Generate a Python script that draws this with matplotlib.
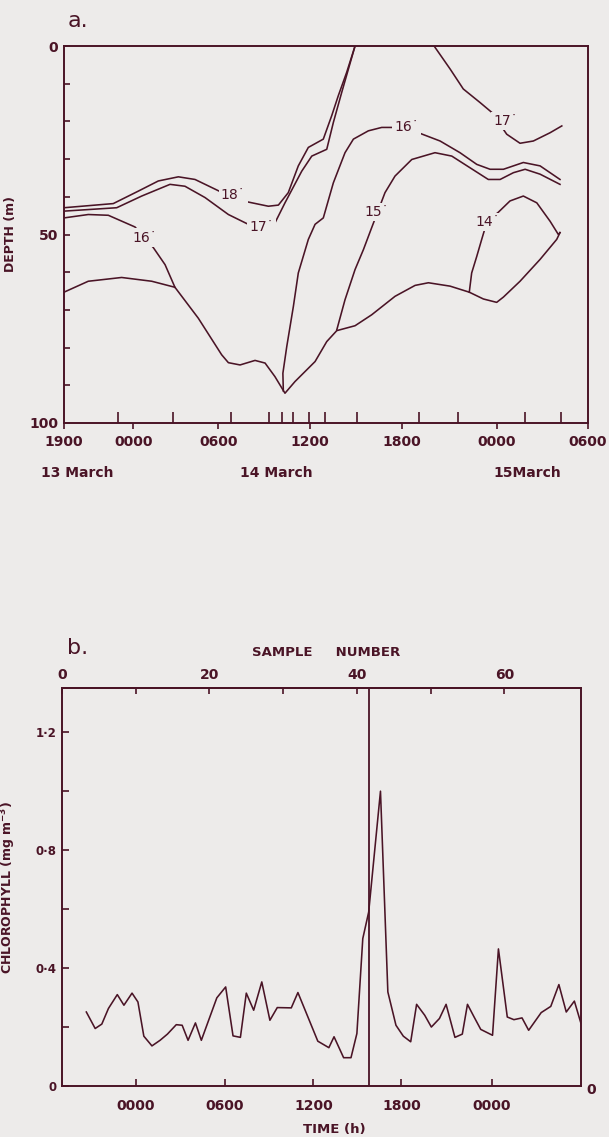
import matplotlib
matplotlib.use("Agg")
import matplotlib.pyplot as plt
from matplotlib.ticker import MultipleLocator, FixedLocator

ink = "#4a1426"
bg = "#edebea"
plt.rcParams['font.family'] = ['DejaVu Sans']

# ---- panel a: isotherm depth (m) against hours after 1900, 13 March ----
iso18_t = [0, 3.29, 4.96, 6.30, 7.64, 8.75, 10.42, 12.20, 13.65, 14.32, 14.98, 15.65,
           16.32, 17.32, 17.88, 18.32, 18.88, 19.44]
iso18_d = [42.9, 41.8, 38.5, 35.8, 34.7, 35.4, 38.6, 41.3, 42.5, 42.2, 38.9, 31.8,
           26.9, 24.7, 18.5, 13.2, 7.0, 0]

iso17a_t = [0, 3.52, 5.19, 7.08, 8.08, 9.42, 10.98, 12.31, 13.98, 14.76, 15.88, 16.55,
            17.55, 17.99, 18.55, 19.44]
iso17a_d = [43.8, 42.9, 39.8, 36.7, 37.2, 40.2, 44.7, 47.3, 47.8, 41.6, 33.2, 29.2,
            27.4, 20.3, 12.3, 0]

iso17b_t = [24.72, 25.79, 26.67, 27.79, 28.57, 29.57, 30.46, 31.35, 32.47, 33.25]
iso17b_d = [0, 6.1, 11.4, 15.0, 17.6, 23.4, 25.8, 25.2, 23.0, 21.2]

iso16a_t = [0, 1.62, 2.96, 4.74, 5.97, 6.75, 7.41]
iso16a_d = [45.6, 44.7, 44.9, 48.0, 53.5, 58.0, 64.0]

iso16b_t = [14.65, 14.62, 14.88, 15.32, 15.65, 16.32, 16.77, 17.32, 17.99, 18.77, 19.33,
            20.33, 21.22, 21.89, 23.67, 25.12, 26.45, 27.57, 28.46, 29.35, 30.68, 31.80, 33.13]
iso16b_d = [91.5, 86.8, 79.7, 69.1, 60.2, 51.3, 47.3, 45.6, 36.3, 28.3, 24.7,
            22.5, 21.6, 21.6, 23.0, 25.2, 28.3, 31.4, 32.7, 32.7, 30.9, 31.8, 35.4]

iso15_t = [18.22, 18.77, 19.44, 20.0, 20.55, 21.44, 22.11, 23.23, 24.78, 25.90, 27.12,
           28.34, 29.13, 30.02, 30.80, 31.80, 33.13]
iso15_d = [75.3, 67.3, 59.3, 54.0, 48.2, 38.9, 34.5, 30.1, 28.3, 29.2, 32.3,
           35.4, 35.4, 33.6, 32.7, 34.0, 36.7]

iso14_t = [27.07, 27.23, 27.57, 27.90, 28.26, 29.01, 29.79, 30.68, 31.58, 32.47, 33.02, 33.13]
iso14_d = [65.3, 60.2, 55.8, 51.3, 46.5, 44.1, 41.1, 39.8, 41.6, 46.5, 50.0, 49.5]

base_t = [0, 1.62, 3.85, 5.86, 7.41, 8.97, 10.53, 10.98, 11.76, 12.76, 13.43, 14.09,
          14.76, 15.43, 16.77, 17.55, 18.22, 19.44, 20.55, 22.11, 23.45, 24.34, 25.79,
          27.07, 28.01, 28.90, 29.35, 30.46, 31.80, 32.91, 33.13]
base_d = [65.3, 62.4, 61.4, 62.4, 64.0, 72.2, 81.9, 84.0, 84.6, 83.4, 84.1, 87.7,
          92.1, 89.0, 83.7, 78.4, 75.5, 74.2, 71.3, 66.4, 63.5, 62.8, 63.7,
          65.3, 67.1, 68.0, 66.6, 62.4, 56.6, 51.3, 49.5]

iso_labels = ["18˙", "17˙", "16˙", "16˙", "15˙", "14˙", "17˙"]
label_t = [11.3, 13.2, 5.4, 22.9, 20.9, 28.3, 29.5]
label_d = [39.4, 48.1, 50.8, 21.5, 44.1, 46.6, 19.8]

time_pos_a = [0, 4.63, 10.31, 16.43, 22.56, 28.90, 35.0]
time_labels_a = ["1900", "0000", "0600", "1200", "1800", "0000", "0600"]
cast_times = [3.59, 7.30, 11.14, 13.69, 14.58, 15.32, 16.39, 17.44, 19.55, 23.73,
              26.30, 28.90, 30.79, 33.18]
dates = ["13 March", "14 March", "15March"]
date_t = [0.87, 14.16, 30.93]

# ---- panel b: chlorophyll against sample number ----
sample_no = [3.3, 4.5, 5.4, 6.3, 7.5, 8.4, 9.5, 10.3, 11.1, 12.2, 13.3, 14.3, 15.5, 16.3,
             17.1, 18.1, 18.9, 21.0, 22.2, 23.2, 24.2, 25.0, 26.0, 27.1, 28.2, 29.2,
             31.1, 32.0, 34.7, 36.2, 36.9, 38.2, 39.2, 40.0, 40.8, 41.6, 43.2, 44.2,
             45.3, 46.3, 47.3, 48.1, 49.2, 50.1, 51.2, 52.1, 53.3, 54.3, 55.0, 55.9,
             56.8, 58.4, 59.2, 60.4, 61.3, 62.4, 63.3, 65.0, 66.3, 67.4, 68.4, 69.5, 70.4]
chl = [0.251, 0.195, 0.210, 0.263, 0.310, 0.274, 0.315, 0.285, 0.169, 0.136, 0.155,
       0.176, 0.208, 0.206, 0.155, 0.214, 0.155, 0.299, 0.336, 0.170, 0.165, 0.315,
       0.257, 0.353, 0.223, 0.266, 0.265, 0.317, 0.152, 0.130, 0.167, 0.096, 0.096,
       0.178, 0.50, 0.59, 1.0, 0.319, 0.206, 0.169, 0.150, 0.277, 0.240, 0.200,
       0.229, 0.277, 0.165, 0.176, 0.277, 0.234, 0.192, 0.172, 0.465, 0.234, 0.225,
       0.231, 0.189, 0.249, 0.270, 0.344, 0.251, 0.288, 0.212]
bloom_sample = 41.7
time_pos_b = [10.0, 22.1, 34.1, 46.05, 58.3]
time_labels_b = ["0000", "0600", "1200", "1800", "0000"]

fig = plt.figure(figsize=(6.09, 11.37), dpi=100, facecolor=bg)

# ---------------- panel a ----------------
ax = fig.add_axes([64 / 609, 1 - 423 / 1137, 524 / 609, 377 / 1137], facecolor=bg)
lw = 1.15
for t, d in [(iso18_t, iso18_d), (iso17a_t, iso17a_d), (iso17b_t, iso17b_d),
             (iso16a_t, iso16a_d), (iso16b_t, iso16b_d), (iso15_t, iso15_d),
             (iso14_t, iso14_d), (base_t, base_d)]:
    ax.plot(t, d, color=ink, lw=lw, solid_joinstyle='round')
for s, t, d in zip(iso_labels, label_t, label_d):
    ax.text(t, d, s, fontsize=10, color=ink, ha='center', va='center',
            bbox=dict(facecolor=bg, edgecolor='none', pad=1.5))
ax.set_xlim(0, 35)
ax.set_ylim(100, 0)
ax.xaxis.set_major_locator(FixedLocator(time_pos_a))
ax.set_xticklabels(time_labels_a)
ax.xaxis.set_minor_locator(FixedLocator(cast_times))
ax.yaxis.set_major_locator(FixedLocator([0, 50, 100]))
ax.yaxis.set_minor_locator(MultipleLocator(10))
ax.tick_params(axis='x', which='major', direction='out', length=4, width=1.2,
               colors=ink, labelsize=10, pad=5)
ax.tick_params(axis='x', which='minor', direction='in', length=8, width=1.2, colors=ink)
ax.tick_params(axis='y', which='both', direction='in', length=4, width=1.2,
               colors=ink, labelsize=10, pad=4)
for lab in ax.get_xticklabels() + ax.get_yticklabels():
    lab.set_fontweight('bold')
for sp in ax.spines.values():
    sp.set_color(ink)
    sp.set_linewidth(1.4)
ax.set_ylabel("DEPTH (m)", fontsize=9, fontweight='bold', color=ink)
ax.yaxis.set_label_coords(-0.09, 0.5)
for s, t in zip(dates, date_t):
    ax.text(t, 133.3 - 20, s, fontsize=10, fontweight='bold', color=ink,
            ha='center', va='center')
fig.text(78 / 609, 1 - 21 / 1137, "a.", fontsize=16, color=ink, ha='center', va='center')

# ---------------- panel b ----------------
bx = fig.add_axes([62 / 609, 1 - 1086 / 1137, 519 / 609, 398 / 1137], facecolor=bg)
bx.plot(sample_no, chl, color=ink, lw=lw)
bx.axvline(bloom_sample, color=ink, lw=1.3)
bx.set_xlim(0, 70.4)
bx.set_ylim(0, 1.35)
bx.xaxis.set_major_locator(FixedLocator(time_pos_b))
bx.set_xticklabels(time_labels_b)
bx.yaxis.set_major_locator(FixedLocator([0, 0.4, 0.8, 1.2]))
bx.set_yticklabels(["0", "0·4", "0·8", "1·2"])
bx.yaxis.set_minor_locator(MultipleLocator(0.2))
bx.tick_params(axis='x', direction='in', length=5, width=1.2, colors=ink,
               labelsize=10, pad=9)
bx.tick_params(axis='y', which='both', direction='in', length=5, width=1.2,
               colors=ink, labelsize=8.5, pad=4)
for lab in bx.get_xticklabels() + bx.get_yticklabels():
    lab.set_fontweight('bold')
for sp in bx.spines.values():
    sp.set_color(ink)
    sp.set_linewidth(1.4)

top = bx.secondary_xaxis('top')
top.xaxis.set_major_locator(FixedLocator([0, 20, 40, 60]))
top.xaxis.set_minor_locator(FixedLocator([10, 30, 50]))
top.tick_params(which='both', direction='in', length=4, width=1.2, colors=ink,
                labelsize=10, pad=4)
for lab in top.get_xticklabels():
    lab.set_fontweight('bold')
top.spines['top'].set_color(ink)
top.spines['top'].set_linewidth(1.4)

bx.set_ylabel("CHLOROPHYLL (mg m$^{\\mathbf{-3}}$)", fontsize=9, fontweight='bold', color=ink)
bx.yaxis.set_label_coords(-0.085, 0.5)
bx.text(1.02, -0.01, "0", transform=bx.transAxes, fontsize=10, fontweight='bold',
        color=ink, ha='center', va='center')
fig.text(334 / 609, 1 - 1129 / 1137, "TIME (h)", fontsize=9.5, fontweight='bold',
         color=ink, ha='center', va='center')
fig.text(326 / 609, 1 - 653 / 1137, "SAMPLE     NUMBER", fontsize=9.5, fontweight='bold',
         color=ink, ha='center', va='center')
fig.text(78 / 609, 1 - 648 / 1137, "b.", fontsize=16, color=ink, ha='center', va='center')

fig.savefig("out.png", dpi=100, facecolor=bg)
